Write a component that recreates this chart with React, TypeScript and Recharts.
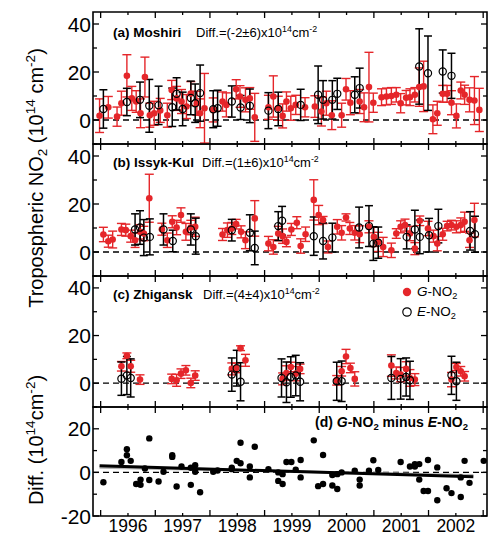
import React from 'react';
import {
  ComposedChart, Scatter, ErrorBar, XAxis, YAxis, ReferenceLine, ReferenceArea, Line,
} from 'recharts';

// [decimal year, value, error]
const moshiriG: number[][] = [
  [1995.48, 1.8, 7], [1995.64, 5.3, 4.5], [1995.80, 1.4, 4], [1995.88, 7.0, 5], [1995.98, 18.4, 8.8],
  [1996.07, 9.0, 5], [1996.15, 7.7, 4.5], [1996.23, 2.8, 6], [1996.31, 17.9, 8.3], [1996.40, 2.0, 5],
  [1996.48, 2.8, 5], [1996.59, 4.0, 5], [1996.72, 2.0, 5], [1996.80, 12.5, 4], [1996.89, 9.0, 5],
  [1996.98, 7.7, 5], [1997.07, 5.6, 5], [1997.15, 11.0, 5], [1997.26, 7.0, 5], [1997.32, 2.8, 6],
  [1997.40, 4.9, 14.5], [1997.56, 4.2, 5], [1997.73, 7.7, 4], [1997.80, 6.3, 5], [1997.98, 12.8, 4],
  [1998.05, 9.8, 4.5], [1998.15, 8.4, 5], [1998.23, 9.0, 4.5], [1998.32, 1.1, 10], [1998.57, 5.3, 5],
  [1998.66, 9.8, 8.6], [1998.75, 4.9, 5], [1998.83, 1.7, 5], [1998.90, 7.7, 4], [1998.98, 4.9, 5],
  [1999.07, 6.3, 4], [1999.24, 5.3, 4], [1999.42, 5.6, 4.5], [1999.54, 3.5, 6], [1999.63, 7.0, 5],
  [1999.73, 2.0, 6], [1999.91, 2.0, 5], [1999.99, 12.8, 4.5], [2000.07, 7.2, 5], [2000.24, 7.7, 5],
  [2000.32, 5.3, 6], [2000.41, 13.7, 14.5], [2000.49, 7.2, 4], [2000.64, 9.5, 3.5], [2000.73, 9.8, 3.5],
  [2000.82, 10.0, 3.5], [2000.91, 10.5, 3], [2000.99, 7.0, 4], [2001.09, 9.3, 3], [2001.16, 9.5, 3.5],
  [2001.25, 10.5, 3], [2001.33, 13.7, 8], [2001.41, 14.0, 10.5], [2001.58, 0.3, 6], [2001.66, 2.8, 5],
  [2001.76, 10.9, 3.5], [2001.84, 10.9, 3.5], [2001.92, 7.2, 5], [2002.01, 1.7, 5], [2002.09, 12.3, 3.5],
  [2002.16, 10.5, 4], [2002.25, 8.4, 5], [2002.34, 8.1, 10], [2002.43, 4.2, 9],
];
const moshiriE: number[][] = [
  [1995.55, 4.6, 8], [1995.98, 7.5, 5.7], [1996.22, 8.4, 7.4], [1996.39, 5.9, 11], [1996.56, 6.1, 8],
  [1996.81, 5.3, 8], [1996.89, 10.9, 6.7], [1997.00, 4.6, 7], [1997.15, 9.2, 7], [1997.23, 7.0, 8],
  [1997.32, 11.2, 11.7], [1997.56, 4.5, 7.7], [1997.64, 4.9, 7.5], [1997.90, 7.7, 6.5], [1998.06, 5.2, 5],
  [1998.23, 5.9, 7], [1998.57, 3.9, 7.5], [1998.75, 4.6, 7], [1999.16, 6.3, 6.5], [1999.48, 10.5, 12],
  [1999.57, 8.4, 8], [1999.74, 8.4, 8], [1999.83, 10.9, 6.5], [2000.15, 10.5, 7.5], [2000.24, 13.3, 8.3],
  [2001.33, 22.3, 15.7], [2001.49, 19.5, 15.5], [2001.76, 20.2, 9], [2001.92, 18.4, 9.4],
];
const issykG: number[][] = [
  [1995.55, 7.3, 3], [1995.64, 4.5, 2.5], [1995.72, 5.2, 3.5], [1995.88, 9.4, 2.5], [1995.96, 9.1, 2.5],
  [1996.05, 6.6, 2.5], [1996.13, 4.9, 3], [1996.22, 8.4, 3], [1996.29, 7.7, 3], [1996.39, 22.4, 10],
  [1996.62, 9.5, 2.5], [1996.72, 4.9, 3], [1996.81, 12.6, 2.5], [1996.89, 10.2, 3], [1996.97, 15.4, 3],
  [1997.06, 8.4, 3.5], [1997.15, 10.2, 3], [1997.23, 10.5, 4], [1997.73, 7.3, 2.5], [1997.82, 9.1, 3],
  [1997.90, 9.8, 2.5], [1997.98, 11.6, 2], [1998.07, 8.4, 2.5], [1998.15, 4.9, 3.5], [1998.32, 14.0, 7.4],
  [1998.57, 3.5, 3], [1998.66, 2.1, 3], [1998.75, 7.7, 3], [1998.83, 6.6, 3], [1998.90, 4.2, 2],
  [1998.99, 9.4, 2.5], [1999.09, 12.2, 2.5], [1999.16, 2.5, 3], [1999.25, 7.4, 3], [1999.40, 21.7, 8.4],
  [1999.49, 15.4, 4], [1999.57, 13.3, 1.5], [1999.66, 2.1, 2.5], [1999.83, 10.5, 3], [1999.91, 8.0, 3],
  [1999.99, 14.4, 1.5], [2000.06, 9.8, 2.5], [2000.15, 8.0, 3], [2000.24, 7.4, 3.5], [2000.41, 10.5, 2.5],
  [2000.50, 6.3, 4], [2000.58, 4.2, 4], [2000.67, 2.1, 4], [2000.82, 0.7, 3], [2000.91, 7.7, 2],
  [2000.99, 10.5, 2.5], [2001.07, 11.2, 2.5], [2001.16, 7.7, 3], [2001.25, 1.4, 2.5], [2001.34, 13.0, 2],
  [2001.49, 9.8, 3], [2001.59, 6.6, 2.5], [2001.66, 3.5, 3], [2001.76, 7.4, 2.5], [2001.84, 10.8, 2],
  [2001.92, 11.2, 2], [2002.01, 10.5, 2.5], [2002.09, 11.2, 3], [2002.16, 12.6, 4], [2002.25, 4.9, 3],
  [2002.34, 13.3, 7],
];
const issykE: number[][] = [
  [1996.13, 9.4, 6.5], [1996.22, 10.2, 7], [1996.29, 6.0, 7.5], [1996.40, 6.3, 7.5], [1996.65, 9.4, 6.5],
  [1996.82, 4.6, 4.5], [1997.15, 9.4, 6.5], [1997.24, 6.6, 7.5], [1997.90, 9.1, 4.5], [1998.23, 8.0, 7.5],
  [1998.32, 1.7, 7], [1998.75, 10.8, 6], [1998.82, 13.0, 6], [1999.40, 6.6, 8], [1999.57, 4.6, 7.5],
  [1999.74, 6.0, 6], [2000.23, 10.2, 8.5], [2000.41, 10.8, 8.5], [2000.49, 3.5, 7], [2000.58, 3.9, 6.5],
  [2001.10, 6.3, 5], [2001.25, 9.4, 8], [2001.34, 6.3, 7], [2001.51, 7.0, 7], [2001.68, 10.8, 7],
  [2002.26, 8.8, 8], [2002.35, 7.4, 7.5],
];
const zhiganskG: number[][] = [
  [1995.88, 7.1, 2], [1995.98, 11.5, 1.2], [1996.05, 7.1, 2.5], [1996.22, 1.5, 2], [1996.80, 1.8, 2],
  [1996.89, 1.2, 2.5], [1996.97, 4.0, 2], [1997.06, 5.4, 2], [1997.15, 0.1, 2], [1997.23, 3.2, 2],
  [1997.90, 6.0, 2.5], [1997.98, 6.4, 2], [1998.06, 14.7, 1], [1998.15, 9.6, 2.5], [1998.83, 1.8, 2.5],
  [1998.90, 4.3, 3], [1998.98, 6.8, 2], [1999.07, 4.0, 3], [1999.15, 6.0, 2], [1999.82, 1.2, 2],
  [1999.91, 5.0, 2], [1999.99, 11.2, 3], [2000.07, 6.4, 2], [2000.15, 1.8, 3], [2000.82, 7.4, 4.5],
  [2000.91, 4.3, 2.5], [2000.99, 3.6, 3], [2001.09, 6.0, 3], [2001.16, 2.2, 3.5], [2001.25, 1.5, 2.5],
  [2001.92, 1.5, 3], [2002.01, 6.8, 1.5], [2002.09, 5.0, 2], [2002.16, 2.9, 2],
];
const zhiganskE: number[][] = [
  [1995.88, 1.9, 7], [1995.98, 3.2, 8], [1996.05, 2.2, 8], [1997.90, 3.6, 7], [1997.99, 6.3, 7.5],
  [1998.06, 0.6, 8], [1998.81, 2.2, 8], [1998.90, 0.4, 8.5], [1998.98, 2.6, 8.5], [1999.07, 3.2, 8.5],
  [1999.15, 0.6, 8], [1999.82, 0.8, 8], [1999.91, 0.8, 8.5], [2000.82, 2.2, 9], [2000.99, 1.8, 8.5],
  [2001.09, 2.6, 8], [2001.16, 1.2, 8], [2001.92, 3.3, 8], [2002.01, 0.8, 8],
];
const diffPoints: number[][] = [
  [1995.55, -4.5], [1995.88, 4.8], [1995.98, 10.6], [1995.98, 7.9], [1996.05, 5.3], [1996.15, -5.3],
  [1996.23, -5.7], [1996.23, -3.3], [1996.31, 1.8], [1996.39, 15.6], [1996.39, -3.5], [1996.56, -4.2],
  [1996.65, 0.3], [1996.81, 7.9], [1996.81, 7.1], [1996.89, -6.5], [1996.98, 2.7], [1997.15, -5.7],
  [1997.15, 2.1], [1997.23, 3.3], [1997.23, 0.3], [1997.32, -9.1], [1997.56, 0.3], [1997.64, 0.9],
  [1997.90, 1.5], [1997.90, 2.1], [1997.99, 5.3], [1998.06, 13.6], [1998.06, 4.2], [1998.23, 2.7],
  [1998.23, -2.3], [1998.32, 11.8], [1998.57, 1.5], [1998.75, -3.9], [1998.83, -5.3], [1998.75, 0],
  [1998.83, -0.8], [1998.90, 4.8], [1998.99, 4.8], [1999.07, 1.2], [1999.16, 5.7], [1999.16, -2.3],
  [1999.40, 14.7], [1999.48, -6.3], [1999.57, 8.0], [1999.57, -5.3], [1999.74, -6.0], [1999.74, -1.2],
  [1999.83, -7.6], [1999.83, -0.8], [1999.91, 0], [2000.15, 0.8], [2000.24, -3.3], [2000.24, -6.0],
  [2000.41, 0.8], [2000.49, 5.6], [2000.58, 1.1], [2000.99, 4.8], [2001.16, 2.7], [2001.25, 3.8],
  [2001.25, 2.7], [2001.33, 3.8], [2001.33, -3.3], [2001.41, -8.5], [2001.49, -8.5], [2001.49, 5.7],
  [2001.66, -12.8], [2001.66, 2.3], [2001.83, -7.3], [2001.92, -9.5], [2002.09, -11.3], [2002.09, -2.3],
  [2002.16, 5.3], [2002.25, -4.8], [2002.51, 5.3],
];
const trendLine = [[1995.48, 3.0], [2002.32, -2.0]];
const trendShadow = [[1995.48, 2.2], [2002.32, -1.3]];

const xTicks = [1995.5, 1996, 1996.5, 1997, 1997.5, 1998, 1998.5, 1999, 1999.5, 2000, 2000.5, 2001, 2001.5, 2002, 2002.5];
const no2Ticks = [-10, 0, 10, 20, 30, 40];
const no2Labels = [0, 20, 40];
const diffTicks = [-20, -10, 0, 10, 20, 30];
const diffLabels = [-20, 0, 20];

const X_DOMAIN = [1995.36, 2002.57];
const RED = '#e5262a';
const FONT = '"Liberation Sans", Arial, Helvetica, sans-serif';
const M = 6; // tick margin
const PLOT_W = 394;
const PAD = 4;

const toPts = (rows: number[][]) => rows.map(([x, y, err]) => ({ x, y, err }));

const redDot = (p: any) => <circle cx={p.cx} cy={p.cy} r={3.3} fill={RED} />;
const openDot = (p: any) => <circle cx={p.cx} cy={p.cy} r={3.6} fill="none" stroke="#000" strokeWidth={1.2} />;
const blackDot = (p: any) => <circle cx={p.cx} cy={p.cy} r={3.2} fill="#000" />;

// year boundaries get the long ticks, labels sit in between
const XTick = ({ x, y, payload, plotH, showLabel }: any) => {
  const axisY = y - M;
  const v = payload.value;
  const len = Number.isInteger(v) ? 3 : 6;
  return (
    <g>
      <line x1={x} x2={x} y1={axisY} y2={axisY - len} stroke="#000" strokeWidth={1.3} />
      <line x1={x} x2={x} y1={axisY - plotH} y2={axisY - plotH + len} stroke="#000" strokeWidth={1.3} />
      {showLabel && Number.isInteger(v) && (
        <text x={x} y={axisY + 4} dy="0.71em" textAnchor="middle" fontSize={17.5} fontFamily={FONT} fill="#000">{v}</text>
      )}
    </g>
  );
};

const YTick = ({ x, y, payload, labels }: any) => {
  const axisX = x + M;
  const v = payload.value;
  const major = labels.includes(v);
  const len = major ? 6 : 4;
  return (
    <g>
      <line x1={axisX} x2={axisX + len} y1={y} y2={y} stroke="#000" strokeWidth={1.3} />
      <line x1={axisX + PLOT_W} x2={axisX + PLOT_W - len} y1={y} y2={y} stroke="#000" strokeWidth={1.3} />
      {major && (
        <text x={axisX - 2} y={y} dy="0.36em" textAnchor="end" fontSize={21} fontFamily={FONT} fill="#000">{v}</text>
      )}
    </g>
  );
};

const Panel = ({ top, plotH, yDomain, yTicks, yLabels, last, children }: any) => {
  const extra = last ? 17 : 0;
  return (
    <div style={{ position: 'absolute', left: 0, top: top - PAD }}>
      <ComposedChart width={489} height={plotH + 2 * PAD + extra} margin={{ top: PAD, right: 2, bottom: PAD + extra - 1, left: 0 }}>
        <XAxis dataKey="x" type="number" domain={X_DOMAIN} ticks={xTicks} interval={0} height={1}
          axisLine={false} tickLine={false} tickSize={0} tickMargin={M} allowDataOverflow
          tick={(p: any) => <XTick {...p} plotH={plotH} showLabel={last} />} />
        <YAxis type="number" domain={yDomain} ticks={yTicks} interval={0} width={93}
          axisLine={false} tickLine={false} tickSize={0} tickMargin={M} allowDataOverflow
          tick={(p: any) => <YTick {...p} labels={yLabels} />} />
        <ReferenceLine y={0} stroke="#000" strokeWidth={1.3} strokeDasharray="6 4" />
        {children}
        <ReferenceArea x1={X_DOMAIN[0]} x2={X_DOMAIN[1]} y1={yDomain[0]} y2={yDomain[1]} fill="none" stroke="#000" strokeWidth={1.6} />
      </ComposedChart>
    </div>
  );
};

const stationSeries = (g: number[][], e: number[][]) => [
  <Scatter key="g" data={toPts(g)} dataKey="y" shape={redDot} isAnimationActive={false}>
    <ErrorBar dataKey="err" direction="y" width={4.5} stroke={RED} strokeWidth={1.4} />
  </Scatter>,
  <Scatter key="e" data={toPts(e)} dataKey="y" shape={openDot} isAnimationActive={false}>
    <ErrorBar dataKey="err" direction="y" width={4} stroke="#000" strokeWidth={1.5} />
  </Scatter>,
];

const Sup = ({ children }: any) => (
  <span style={{ fontSize: '0.68em', position: 'relative', top: '-0.6em' }}>{children}</span>
);
const Sub = ({ children }: any) => (
  <span style={{ fontSize: '0.68em', position: 'relative', top: '0.3em' }}>{children}</span>
);

const Title = ({ left, diffLeft, top, name, diff }: any) => (
  <>
    <div style={{ position: 'absolute', left, top, fontSize: 13.5, fontWeight: 'bold', whiteSpace: 'nowrap', lineHeight: '15px' }}>{name}</div>
    <div style={{ position: 'absolute', left: diffLeft, top, fontSize: 13, whiteSpace: 'nowrap', lineHeight: '15px' }}>
      Diff.=({diff})x10<Sup>14</Sup>cm<Sup>-2</Sup>
    </div>
  </>
);

export default function App() {
  return (
    <div style={{ position: 'absolute', left: 0, top: 0, width: 489, height: 537, background: '#fff', fontFamily: FONT, color: '#000' }}>
      <Panel top={12} plotH={132} yDomain={[-10, 45]} yTicks={no2Ticks} yLabels={no2Labels}>
        {stationSeries(moshiriG, moshiriE)}
      </Panel>
      <Panel top={144} plotH={132} yDomain={[-10, 45]} yTicks={no2Ticks} yLabels={no2Labels}>
        {stationSeries(issykG, issykE)}
      </Panel>
      <Panel top={276} plotH={131} yDomain={[-10, 45]} yTicks={no2Ticks} yLabels={no2Labels}>
        {stationSeries(zhiganskG, zhiganskE)}
      </Panel>
      <Panel top={407} plotH={109} yDomain={[-20, 30]} yTicks={diffTicks} yLabels={diffLabels} last>
        <Line data={trendShadow.map(([x, y]) => ({ x, y }))} dataKey="y" stroke="#b5b5b5" strokeWidth={2.5} dot={false} isAnimationActive={false} />
        <Line data={trendLine.map(([x, y]) => ({ x, y }))} dataKey="y" stroke="#000" strokeWidth={3} dot={false} isAnimationActive={false} />
        <Scatter data={toPts(diffPoints)} dataKey="y" shape={blackDot} isAnimationActive={false} />
      </Panel>

      <Title left={113} diffLeft={196} top={25} name="(a) Moshiri" diff="-2±6" />
      <Title left={113} diffLeft={202} top={155} name="(b) Issyk-Kul" diff="1±6" />
      <Title left={113} diffLeft={203} top={287} name="(c) Zhigansk" diff="4±4" />

      <div style={{ position: 'absolute', right: 21, top: 415, fontSize: 14, fontWeight: 'bold', whiteSpace: 'nowrap', lineHeight: '15px' }}>
        (d) <i>G</i>-NO<Sub>2</Sub> minus <i>E</i>-NO<Sub>2</Sub>
      </div>

      <svg style={{ position: 'absolute', left: 0, top: 0 }} width={489} height={537} pointerEvents="none">
        <circle cx={407} cy={292} r={4.2} fill={RED} />
        <circle cx={407} cy={312} r={4.2} fill="none" stroke="#000" strokeWidth={1.2} />
      </svg>
      <div style={{ position: 'absolute', left: 417, top: 284, fontSize: 13.5, whiteSpace: 'nowrap', lineHeight: '15px' }}>
        <i>G</i>-NO<Sub>2</Sub>
      </div>
      <div style={{ position: 'absolute', left: 417, top: 304, fontSize: 13.5, whiteSpace: 'nowrap', lineHeight: '15px' }}>
        <i>E</i>-NO<Sub>2</Sub>
      </div>

      <div style={{ position: 'absolute', left: 37, top: 178, transform: 'translate(-50%, -50%) rotate(-90deg)', fontSize: 20, whiteSpace: 'nowrap', lineHeight: '22px' }}>
        Tropospheric NO<Sub>2</Sub> (10<Sup>14</Sup> cm<Sup>-2</Sup>)
      </div>
      <div style={{ position: 'absolute', left: 37, top: 440, transform: 'translate(-50%, -50%) rotate(-90deg)', fontSize: 20, whiteSpace: 'nowrap', lineHeight: '22px' }}>
        Diff. (10<Sup>14</Sup>cm<Sup>-2</Sup>)
      </div>
    </div>
  );
}
